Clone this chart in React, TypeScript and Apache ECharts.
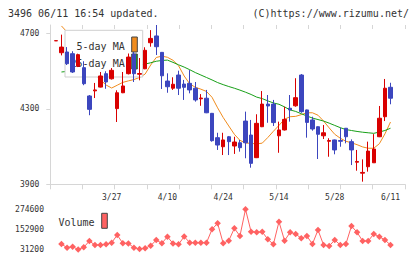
import React, { useEffect, useRef } from "react";
import * as echarts from "echarts";

const dates = ["3/12","3/13","3/14","3/17","3/18","3/19","3/21","3/24","3/25","3/26","3/27","3/28","3/31","4/1","4/2","4/3","4/4","4/7","4/8","4/9","4/10","4/11","4/14","4/15","4/16","4/17","4/18","4/21","4/22","4/23","4/24","4/25","4/30","5/1","5/2","5/7","5/8","5/9","5/12","5/13","5/14","5/15","5/16","5/19","5/20","5/21","5/22","5/23","5/26","5/27","5/28","5/29","5/30","6/2","6/3","6/4","6/5","6/6","6/9","6/10","6/11"];
const dateTickLabels = ["3/27", "4/10", "4/24", "5/14", "5/28", "6/11"];

const opens = [4660,4597,4601,4592,4525,4518,4368,4395,4415,4486,4459,4301,4385,4486,4589,4483,4512,4650,4686,4599,4447,4409,4479,4431,4435,4409,4353,4356,4276,4147,4099,4152,4103,4120,4235,4161,4041,4205,4325,4325,4157,4188,4303,4316,4479,4294,4241,4205,4157,4128,4135,4132,4197,4126,4017,3959,3993,4014,4152,4258,4414];
const closes = [4661,4627,4539,4495,4587,4433,4297,4400,4474,4442,4504,4385,4421,4574,4486,4487,4610,4673,4629,4475,4417,4430,4409,4414,4400,4347,4357,4279,4131,4108,4135,4126,4124,4094,4120,4011,4223,4325,4315,4227,4188,4244,4294,4359,4285,4228,4193,4165,4173,4132,4082,4128,4152,4082,4021,3963,4076,4087,4250,4409,4356];
const lows = [4660,4583,4532,4490,4521,4425,4266,4357,4413,4406,4455,4230,4383,4482,4442,4451,4510,4629,4585,4405,4385,4400,4373,4347,4382,4338,4316,4277,4126,4082,4055,4055,4061,4073,4038,3988,4039,4203,4226,4209,4067,4185,4232,4311,4279,4147,4184,4034,4140,4046,4059,4099,4117,4002,3972,3914,3967,4013,4150,4235,4324];
const highs = [4661,4693,4627,4605,4592,4552,4373,4437,4495,4499,4516,4398,4495,4593,4601,4569,4626,4717,4744,4601,4488,4467,4502,4453,4505,4442,4378,4400,4278,4173,4173,4156,4152,4135,4285,4241,4271,4394,4373,4347,4232,4311,4373,4462,4484,4296,4258,4207,4214,4144,4137,4200,4198,4138,4082,4032,4126,4166,4315,4458,4438];
const ma5 = [null,4739,4707,4665,4622,4574,4527,4484,4453,4426,4410,4425,4440,4448,4455,4466,4484,4532,4572,4579,4573,4557,4528,4474,4432,4414,4404,4392,4361,4305,4254,4209,4165,4133,4119,4117,4114,4118,4148,4181,4212,4245,4258,4260,4269,4279,4279,4266,4235,4199,4165,4144,4128,4120,4110,4098,4091,4091,4115,4167,4230];
const ma25 = [null,4495,4498,4500,4503,4506,4508,4511,4514,4516,4519,4521,4524,4527,4529,4532,4537,4544,4552,4556,4558,4546,4533,4521,4507,4492,4479,4466,4453,4439,4428,4418,4409,4399,4388,4376,4362,4354,4342,4331,4324,4310,4294,4286,4274,4262,4251,4243,4235,4224,4212,4200,4190,4185,4180,4176,4173,4170,4177,4185,4197];
const volumes = [null,64500,42100,48200,31200,44500,82700,58400,58000,62700,72400,119000,68700,68000,42100,34200,38500,54200,88700,68700,108700,67500,62700,109500,72400,71800,72400,72000,153500,189800,68700,84500,159600,112900,274600,139000,135300,138000,93000,62700,199500,84500,135300,125100,99000,112900,64500,149300,58400,52400,88700,58400,64500,173500,135300,82700,83000,125100,108700,88700,58400];

const priceTicks = [3900, 4300, 4700];
const volumeTicks = [31200, 152900, 274600];

const MONO = "DejaVu Sans Mono";
const AXIS = "#d6d6d6";
const TXT = "#333";
const plain = (v: number) => String(v);

export default function App() {
  const ref = useRef<HTMLDivElement>(null);
  useEffect(() => {
    document.body.style.margin = "0";
    const chart = echarts.init(ref.current!, null, { renderer: "svg" });
    const candles = dates.map((_, i) => [opens[i], closes[i], lows[i], highs[i]]);
    const dataGrid = { left: 53.1, width: 340.2 };
    chart.setOption({
      animation: false,
      grid: [
        { left: 50, right: 15, top: 25, height: 159.3 },
        { ...dataGrid, top: 25, height: 159.3 },
        { ...dataGrid, top: 209.3, height: 40.2 },
      ],
      xAxis: [
        {
          type: "value", gridIndex: 0, min: 0, max: 11, interval: 1,
          axisLine: { show: true, lineStyle: { color: AXIS } },
          axisTick: { show: true, length: 5, lineStyle: { color: AXIS } },
          axisLabel: { show: false }, splitLine: { show: false },
        },
        {
          type: "value", gridIndex: 0, min: 0, max: 11, interval: 1,
          axisLine: { show: false },
          axisTick: { show: true, inside: true, length: 4, lineStyle: { color: AXIS } },
          axisLabel: { show: false }, splitLine: { show: false },
        },
        {
          type: "category", gridIndex: 1, data: dates, boundaryGap: true,
          axisLine: { show: false }, axisTick: { show: false },
          axisLabel: {
            interval: (i: number, v: string) => dateTickLabels.includes(v),
            fontSize: 8, fontFamily: MONO, color: TXT, margin: 9,
          },
        },
        { type: "category", gridIndex: 2, data: dates, show: false },
      ],
      yAxis: [
        {
          type: "value", gridIndex: 0, min: 3900, max: 4744,
          axisLine: { show: true, lineStyle: { color: AXIS } },
          axisTick: { show: true, length: 3.5, customValues: priceTicks, lineStyle: { color: AXIS } },
          axisLabel: { customValues: priceTicks, formatter: plain, fontSize: 8, fontFamily: MONO, color: TXT, margin: 10.7 },
          splitLine: { show: false },
        },
        {
          type: "value", gridIndex: 0, min: 3900, max: 4744,
          axisLine: { show: false },
          axisTick: { show: true, inside: true, length: 3.5, customValues: priceTicks, lineStyle: { color: AXIS } },
          axisLabel: { show: false }, splitLine: { show: false },
        },
        { type: "value", gridIndex: 1, min: 3900, max: 4744, show: false, splitLine: { show: false } },
        {
          type: "value", gridIndex: 2, min: 31200, max: 274600,
          axisLine: { show: false }, axisTick: { show: false }, splitLine: { show: false },
          axisLabel: { customValues: volumeTicks, formatter: plain, fontSize: 8, fontFamily: MONO, color: TXT, margin: 9.1 },
        },
      ],
      series: [
        {
          type: "line", xAxisIndex: 2, yAxisIndex: 2, data: ma5, z: 1,
          showSymbol: false, lineStyle: { color: "#f08c1e", width: 1 }, itemStyle: { color: "#f08c1e" },
        },
        {
          type: "line", xAxisIndex: 2, yAxisIndex: 2, data: ma25, z: 1,
          showSymbol: false, lineStyle: { color: "#18a018", width: 1 }, itemStyle: { color: "#18a018" },
        },
        {
          type: "candlestick", xAxisIndex: 2, yAxisIndex: 2, data: candles, z: 5, barWidth: 4,
          itemStyle: {
            color: "#d90000", color0: "#3c46be",
            borderColor: "#d90000", borderColor0: "#3c46be", borderWidth: 1,
          },
        },
        {
          type: "line", xAxisIndex: 3, yAxisIndex: 3, data: volumes, z: 3,
          symbol: "diamond", symbolSize: 6.5, showSymbol: true, showAllSymbol: true,
          lineStyle: { color: "#ff6262", width: 1 }, itemStyle: { color: "#ff6262" },
        },
      ],
      graphic: [
        { type: "text", x: 8, y: 13, z: 10, style: { text: "3496 06/11 16:54 updated.", font: `10px '${MONO}'`, fill: TXT, verticalAlign: "middle" } },
        { type: "text", x: 409, y: 13, z: 10, style: { text: "(C)https://www.rizumu.net/", font: `10px '${MONO}'`, fill: TXT, align: "right", verticalAlign: "middle" } },
        { type: "rect", x: 65, y: 30.3, z: 2, shape: { width: 77.7, height: 46.7 }, style: { fill: "#fff", stroke: "#cfcfcf", lineWidth: 1 } },
        { type: "text", x: 124.7, y: 46.5, z: 3, style: { text: "5-day MA", font: `10px '${MONO}'`, fill: TXT, align: "right", verticalAlign: "middle" } },
        { type: "text", x: 124.7, y: 63, z: 3, style: { text: "25-day MA", font: `10px '${MONO}'`, fill: TXT, align: "right", verticalAlign: "middle" } },
        { type: "rect", x: 131.7, y: 37, z: 3, shape: { width: 5.6, height: 15 }, style: { fill: "#f08c1e", stroke: "#444", lineWidth: 1 } },
        { type: "rect", x: 131.7, y: 54, z: 3, shape: { width: 5.6, height: 15 }, style: { fill: "#18a018", stroke: "#444", lineWidth: 1 } },
        { type: "text", x: 58.5, y: 222, z: 10, style: { text: "Volume", font: `10px '${MONO}'`, fill: TXT, verticalAlign: "middle" } },
        { type: "rect", x: 101.7, y: 213.3, z: 10, shape: { width: 5.6, height: 15 }, style: { fill: "#ff6262", stroke: "#444", lineWidth: 1 } },
      ],
    });
    return () => chart.dispose();
  }, []);
  return <div ref={ref} style={{ width: 420, height: 259 }} />;
}
